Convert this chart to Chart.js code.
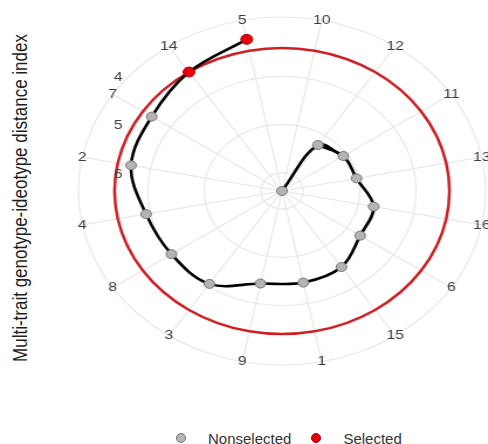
<!DOCTYPE html>
<html>
<head>
<meta charset="utf-8">
<script src="https://cdn.jsdelivr.net/npm/chart.js"></script>
<style>
  html, body { margin: 0; padding: 0; background: #fff; }
  body { width: 488px; height: 444px; overflow: hidden; position: relative; font-family: "Liberation Sans", Arial, sans-serif; }
  #wrap { position: absolute; left: 48px; top: -9px; width: 400px; height: 400px; transform-origin: 0 0; transform: scaleX(1.17); }
  #ytitle { position: absolute; left: 21px; top: 198px; white-space: nowrap; font-size: 17px; color: #1e1e1e;
            transform: translate(-50%, -50%) scaleX(1.17) rotate(-90deg); }
  #legend { position: absolute; left: 176px; top: 429px; height: 18px; display: flex; align-items: center; font-size: 15px; color: #333; }
  #legend .item { display: flex; align-items: center; margin-right: 20px; }
  #legend .dot { width: 10px; height: 10px; border-radius: 50%; margin-right: 22px; box-sizing: border-box; }
</style>
</head>
<body>
<div id="ytitle">Multi-trait genotype-ideotype distance index</div>
<div id="wrap"><canvas id="mgidiChart" width="400" height="400"></canvas></div>
<div id="legend"></div>
<script>
// genotypes in clockwise order (first one sits at the centre)
const genotypes = ['10', '12', '11', '13', '16', '6', '15', '1', '9', '3', '8', '4', '2', '7', '14', '5'];
const mgidi = [6.375, 5.23, 5.07, 5.03, 4.72, 4.71, 4.48, 4.44, 4.42, 4.06, 4.02, 3.92, 3.65, 3.60, 3.41, 3.17];
const selectedGenotypes = ['14', '5'];
const cutoff = 3.41;
const tickValues = [4, 5, 6];

const rMax = Math.max(...mgidi);
const rMin = Math.min(...mgidi) - (rMax - Math.min(...mgidi)) / 8;

const isSel = g => selectedGenotypes.includes(g);
const nonselData = mgidi.map((v, i) => isSel(genotypes[i]) ? null : v);
const selData = mgidi.map((v, i) => isSel(genotypes[i]) ? v : null);
const pathData = mgidi.map((v, i) => i === 0 ? null : v);
const stubData = mgidi.map((v, i) => i <= 2 ? v : null);
const cutData = genotypes.map(() => cutoff);

const polarText = {
  id: 'polarText',
  afterDraw(chart) {
    const s = chart.scales.r;
    const ctx = chart.ctx;
    ctx.save();
    ctx.font = '13.5px "Liberation Sans", Arial, sans-serif';
    ctx.fillStyle = '#3d3d3d';
    ctx.textAlign = 'center';
    ctx.textBaseline = 'middle';
    genotypes.forEach((g, i) => {
      const p = s.getPointPosition(i, s.drawingArea);
      ctx.fillText(g, p.x, p.y);
    });
    tickValues.forEach(v => {
      ctx.fillText(String(v), s.xCenter - 140, s.yCenter - s.getDistanceFromCenterForValue(v) + 1);
    });
    ctx.restore();
  }
};

const ctx = document.getElementById('mgidiChart').getContext('2d');
const chart = new Chart(ctx, {
  type: 'radar',
  data: {
    labels: genotypes,
    datasets: [
      { label: 'Nonselected', data: nonselData, showLine: false, fill: false,
        pointRadius: 4.5, pointBackgroundColor: '#b4b4b4', pointBorderColor: '#767676', pointBorderWidth: 1 },
      { label: 'Selected', data: selData, showLine: false, fill: false,
        pointRadius: 5, pointBackgroundColor: '#e8000b', pointBorderColor: '#a80000', pointBorderWidth: 1 },
      { label: 'path', data: pathData, fill: false, borderColor: '#000', borderWidth: 2.6, pointRadius: 0, tension: 0.36 },
      { label: 'stub', data: stubData, fill: false, borderColor: '#000', borderWidth: 2.6, pointRadius: 0, tension: 0.36,
        segment: { borderColor: c => c.p0DataIndex === 0 ? '#000' : 'rgba(0,0,0,0)' } },
      { label: 'cutoff', data: cutData, fill: false, borderColor: '#cf1f24', borderWidth: 2.5, pointRadius: 0, tension: 0.343 }
    ]
  },
  options: {
    responsive: false,
    animation: false,
    events: [],
    layout: { padding: 26 },
    plugins: { legend: { display: false }, tooltip: { enabled: false } },
    scales: {
      r: {
        min: rMin,
        max: rMax,
        reverse: true,
        startAngle: 11.25,
        afterBuildTicks: s => {
          s.ticks = [rMax, ...tickValues.slice().reverse(), rMin].map(v => ({ value: v }));
        },
        ticks: { display: false },
        pointLabels: { display: false },
        grid: { circular: true, color: '#e8e8e8', lineWidth: 1.2 },
        angleLines: { color: '#e8e8e8', lineWidth: 1.2 }
      }
    }
  },
  plugins: [polarText]
});

const legend = document.getElementById('legend');
chart.data.datasets.slice(0, 2).forEach(ds => {
  const item = document.createElement('span');
  item.className = 'item';
  const dot = document.createElement('span');
  dot.className = 'dot';
  dot.style.background = ds.pointBackgroundColor;
  dot.style.border = '1px solid ' + ds.pointBorderColor;
  item.appendChild(dot);
  item.appendChild(document.createTextNode(ds.label));
  legend.appendChild(item);
});
</script>
</body>
</html>
